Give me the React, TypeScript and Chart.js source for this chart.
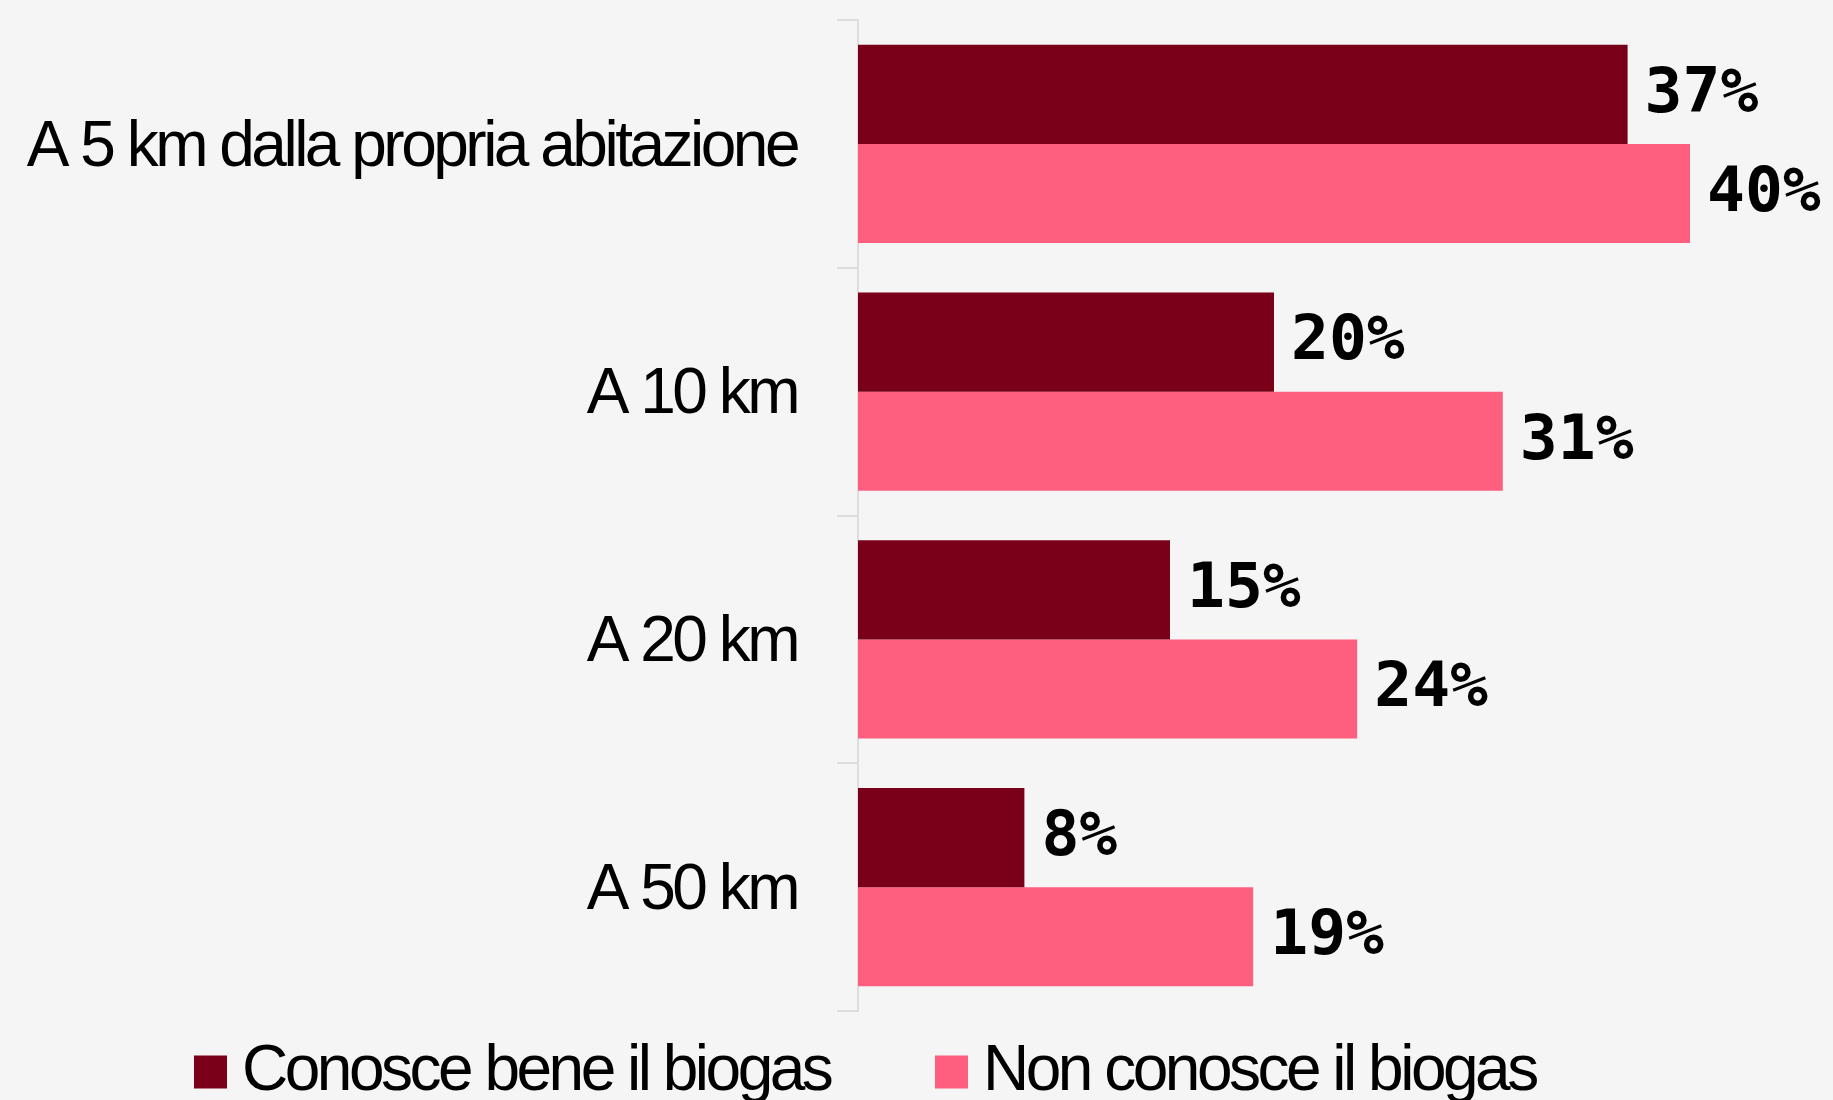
import React, { useEffect, useRef } from "react";
import { Chart, registerables } from "chart.js";

Chart.register(...registerables);

const categories = ["A 5 km dalla propria abitazione", "A 10 km", "A 20 km", "A 50 km"];
const seriesLabels = ["Conosce bene il biogas", "Non conosce il biogas"];
const conosceValues = [37, 20, 15, 8];
const nonConosceValues = [40, 31, 24, 19];
const xMax = 45;

const DARK = "#7a0019";
const PINK = "#ff5f7e";
const LABEL_FONT = '"Liberation Sans", Arial, sans-serif';
const VALUE_FONT = '"DejaVu Sans Mono", monospace';
const TIGHT = "-3.5px";

const spacingPlugin = {
  id: "tightSpacing",
  beforeDraw(chart: any) {
    (chart.ctx as any).letterSpacing = TIGHT;
  },
};

const valueLabelPlugin = {
  id: "valueLabels",
  afterDatasetsDraw(chart: any) {
    const ctx = chart.ctx;
    ctx.save();
    (ctx as any).letterSpacing = "0px";
    ctx.font = `bold 63px ${VALUE_FONT}`;
    ctx.fillStyle = "#000000";
    ctx.textAlign = "left";
    ctx.textBaseline = "middle";
    chart.data.datasets.forEach((ds: any, i: number) => {
      const meta = chart.getDatasetMeta(i);
      meta.data.forEach((bar: any, j: number) => {
        ctx.fillText(`${ds.data[j]}%`, bar.x + 17, bar.y + 1);
      });
    });
    ctx.restore();
  },
};

const legendPlugin = {
  id: "customLegend",
  afterDraw(chart: any) {
    const ctx = chart.ctx;
    const positions = [194, 935];
    const y = 1072;
    ctx.save();
    (ctx as any).letterSpacing = TIGHT;
    ctx.font = `64px ${LABEL_FONT}`;
    ctx.textAlign = "left";
    ctx.textBaseline = "middle";
    chart.data.datasets.forEach((ds: any, i: number) => {
      const x = positions[i];
      ctx.fillStyle = ds.backgroundColor;
      ctx.fillRect(x, y - 16.5, 33, 33);
      ctx.fillStyle = "#000000";
      ctx.fillText(ds.label, x + 48, y);
    });
    ctx.restore();
  },
};

export default function App() {
  const canvasRef = useRef<HTMLCanvasElement | null>(null);

  useEffect(() => {
    if (!canvasRef.current) return;
    const chart = new Chart(canvasRef.current, {
      type: "bar",
      data: {
        labels: categories,
        datasets: [
          {
            label: seriesLabels[0],
            data: conosceValues,
            backgroundColor: DARK,
            borderWidth: 0,
            categoryPercentage: 0.8,
            barPercentage: 1.0,
          },
          {
            label: seriesLabels[1],
            data: nonConosceValues,
            backgroundColor: PINK,
            borderWidth: 0,
            categoryPercentage: 0.8,
            barPercentage: 1.0,
          },
        ],
      },
      options: {
        indexAxis: "y",
        responsive: false,
        animation: false,
        devicePixelRatio: 1,
        layout: { padding: { top: 20, right: 39, bottom: 89, left: 0 } },
        plugins: {
          legend: { display: false },
          tooltip: { enabled: false },
        },
        scales: {
          x: {
            min: 0,
            max: xMax,
            display: false,
          },
          y: {
            afterFit(scale: any) {
              scale.width = 858;
              scale.paddingTop = 0;
              scale.paddingBottom = 0;
            },
            grid: {
              drawOnChartArea: false,
              drawTicks: true,
              tickLength: 21,
              color: "#dddddd",
              lineWidth: 2,
            },
            border: { display: true, color: "#dddddd", width: 2 },
            ticks: {
              color: "#000000",
              padding: 40,
              labelOffset: 4,
              autoSkip: false,
              font: { family: LABEL_FONT, size: 64 },
            },
          },
        },
      },
      plugins: [spacingPlugin, valueLabelPlugin, legendPlugin],
    });
    return () => chart.destroy();
  }, []);

  return (
    <div
      style={{
        position: "absolute",
        left: 0,
        top: 0,
        width: 1833,
        height: 1100,
        background: "#f5f5f5",
        overflow: "hidden",
      }}
    >
      <canvas ref={canvasRef} width={1833} height={1100} style={{ display: "block" }} />
    </div>
  );
}
